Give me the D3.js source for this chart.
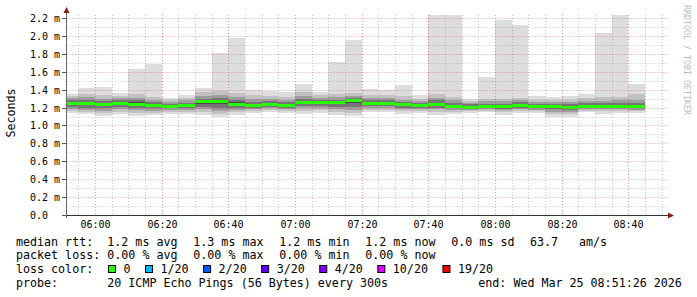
<!DOCTYPE html>
<html>
<head>
<meta charset="utf-8">
<script src="https://cdnjs.cloudflare.com/ajax/libs/d3/7.8.5/d3.min.js"></script>
<style>
  body { margin: 0; background: #fff; }
  svg { display: block; }
  text { font-family: "DejaVu Sans Mono", monospace; fill: #000; }
</style>
</head>
<body>
<svg width="697" height="297"></svg>
<script>
// 5 minute steps (start of each step)
var steps = ["05:50", "05:55", "06:00", "06:05", "06:10", "06:15", "06:20", "06:25", "06:30", "06:35",
             "06:40", "06:45", "06:50", "06:55", "07:00", "07:05", "07:10", "07:15", "07:20", "07:25",
             "07:30", "07:35", "07:40", "07:45", "07:50", "07:55", "08:00", "08:05", "08:10", "08:15",
             "08:20", "08:25", "08:30", "08:35", "08:40"];

// median rtt in ms
var median = [1.248, 1.25, 1.23, 1.25, 1.24, 1.22, 1.21, 1.22, 1.265, 1.27,
              1.24, 1.22, 1.24, 1.226, 1.26, 1.255, 1.257, 1.275, 1.245, 1.25,
              1.23, 1.22, 1.237, 1.207, 1.2, 1.212, 1.212, 1.226, 1.21, 1.21,
              1.205, 1.216, 1.216, 1.215, 1.215];

// sorted pings (rank 1, 3, 5, 7, 9, 12, 14, 16, 18, 20 of 20) in ms
var pMin = [1.14, 1.125, 1.11, 1.13, 1.11, 1.12, 1.13, 1.13, 1.12, 1.095,
            1.12, 1.14, 1.15, 1.14, 1.13, 1.14, 1.12, 1.11, 1.15, 1.15,
            1.13, 1.14, 1.12, 1.13, 1.14, 1.15, 1.12, 1.14, 1.14, 1.10,
            1.10, 1.15, 1.13, 1.14, 1.14];
var p3 = [1.16, 1.15, 1.14, 1.155, 1.14, 1.14, 1.15, 1.15, 1.15, 1.13,
          1.15, 1.16, 1.17, 1.16, 1.16, 1.17, 1.15, 1.14, 1.17, 1.17,
          1.16, 1.16, 1.15, 1.155, 1.16, 1.165, 1.15, 1.16, 1.16, 1.13,
          1.13, 1.165, 1.16, 1.16, 1.16];
var p5 = [1.18, 1.17, 1.165, 1.18, 1.17, 1.165, 1.17, 1.17, 1.18, 1.16,
          1.175, 1.18, 1.19, 1.18, 1.19, 1.195, 1.18, 1.17, 1.19, 1.19,
          1.18, 1.18, 1.18, 1.175, 1.175, 1.18, 1.17, 1.18, 1.175, 1.155,
          1.155, 1.18, 1.18, 1.18, 1.175];
var p7 = [1.21, 1.20, 1.19, 1.205, 1.20, 1.19, 1.19, 1.195, 1.21, 1.20,
          1.20, 1.195, 1.21, 1.20, 1.22, 1.22, 1.21, 1.21, 1.215, 1.215,
          1.20, 1.20, 1.20, 1.19, 1.19, 1.19, 1.185, 1.20, 1.19, 1.18,
          1.175, 1.195, 1.195, 1.195, 1.19];
var p9 = [1.235, 1.23, 1.215, 1.235, 1.225, 1.21, 1.20, 1.21, 1.245, 1.245,
          1.225, 1.21, 1.23, 1.215, 1.245, 1.24, 1.24, 1.25, 1.235, 1.24,
          1.22, 1.21, 1.22, 1.20, 1.195, 1.20, 1.20, 1.215, 1.20, 1.20,
          1.195, 1.205, 1.205, 1.205, 1.205];
var p12 = [1.265, 1.265, 1.25, 1.265, 1.26, 1.24, 1.225, 1.235, 1.28, 1.285,
           1.26, 1.24, 1.255, 1.24, 1.275, 1.27, 1.27, 1.29, 1.26, 1.265,
           1.245, 1.235, 1.255, 1.225, 1.215, 1.225, 1.225, 1.24, 1.22, 1.225,
           1.22, 1.23, 1.23, 1.23, 1.23];
var p14 = [1.285, 1.29, 1.275, 1.285, 1.28, 1.26, 1.24, 1.255, 1.30, 1.31,
           1.29, 1.265, 1.275, 1.26, 1.30, 1.29, 1.29, 1.305, 1.28, 1.285,
           1.265, 1.255, 1.28, 1.25, 1.235, 1.24, 1.245, 1.26, 1.24, 1.24,
           1.24, 1.25, 1.25, 1.25, 1.255];
var p16 = [1.31, 1.32, 1.30, 1.31, 1.31, 1.285, 1.26, 1.28, 1.33, 1.34,
           1.32, 1.30, 1.30, 1.29, 1.33, 1.31, 1.32, 1.325, 1.31, 1.31,
           1.29, 1.27, 1.31, 1.28, 1.25, 1.27, 1.27, 1.28, 1.26, 1.26,
           1.26, 1.275, 1.275, 1.28, 1.29];
var p18 = [1.33, 1.356, 1.34, 1.335, 1.35, 1.32, 1.28, 1.31, 1.37, 1.38,
           1.36, 1.34, 1.33, 1.32, 1.37, 1.34, 1.35, 1.36, 1.34, 1.34,
           1.33, 1.30, 1.35, 1.32, 1.27, 1.30, 1.30, 1.31, 1.29, 1.29,
           1.29, 1.31, 1.32, 1.32, 1.35];
var pMax = [1.35, 1.42, 1.43, 1.36, 1.63, 1.69, 1.31, 1.34, 1.42, 1.81,
            1.98, 1.40, 1.39, 1.37, 1.46, 1.37, 1.71, 1.96, 1.41, 1.40,
            1.45, 1.34, 2.40, 2.40, 1.30, 1.54, 2.18, 2.12, 1.33, 1.32,
            1.33, 1.35, 2.03, 2.40, 1.46];

var tickLabels = ["06:00", "06:20", "06:40", "07:00", "07:20", "07:40", "08:00", "08:20", "08:40"];
var yValues = [0, 0.2, 0.4, 0.6, 0.8, 1.0, 1.2, 1.4, 1.6, 1.8, 2.0, 2.2];
var lossLabels = ["0", "1/20", "2/20", "3/20", "4/20", "10/20", "19/20"];
var lossColors = ["#26ff00", "#00b8ff", "#0059ff", "#5e00ff", "#7e00ff", "#dd00ff", "#ff0000"];

var svg = d3.select("svg"),
    plotLeft = 66.5,
    plotTop = 15,
    plotW = 600,
    plotH = 200,
    charW = 7.02;

var parse = d3.utcParse("%Y-%m-%d %H:%M:%S"),
    end = parse("2026-03-25 08:51:26"),
    start = d3.utcHour.offset(end, -3),
    stepTime = s => parse("2026-03-25 " + s + ":00");

var x = d3.scaleUtc().domain([start, end]).range([plotLeft, plotLeft + plotW]),
    y = d3.scaleLinear().domain([0, 2.2346]).range([plotTop + plotH, plotTop]);

svg.append("clipPath").attr("id", "clip")
    .append("rect")
    .attr("x", plotLeft).attr("y", plotTop)
    .attr("width", plotW).attr("height", plotH);

var plot = svg.append("g").attr("clip-path", "url(#clip)");

var bx0 = d => Math.round(x(stepTime(d))),
    bx1 = d => Math.round(x(d3.utcMinute.offset(stepTime(d), 5)));

// smoke, outer pair first, darker inner pairs on top
var bands = [[pMin, pMax, "#dddddd"], [p3, p18, "#c2c2c2"], [p5, p16, "#9e9e9e"],
             [p7, p14, "#757575"], [p9, p12, "#4a4a4a"]];
bands.forEach(function (b) {
    plot.selectAll(null)
        .data(steps)
        .enter().append("rect")
        .attr("shape-rendering", "crispEdges")
        .attr("x", bx0)
        .attr("width", d => bx1(d) - bx0(d))
        .attr("y", (d, i) => y(b[1][i]))
        .attr("height", (d, i) => y(b[0][i]) - y(b[1][i]))
        .attr("fill", b[2]);
});

// median line
plot.selectAll(null)
    .data(steps)
    .enter().append("rect")
    .attr("shape-rendering", "crispEdges")
    .attr("x", bx0)
    .attr("width", d => bx1(d) - bx0(d))
    .attr("y", (d, i) => Math.round(y(median[i]) - 1.5))
    .attr("height", 3)
    .attr("fill", lossColors[0]);

// grid on top of data
var grid = svg.append("g").attr("stroke-dasharray", "1,2").attr("fill", "none");
var minorY = d3.range(1, 23).map(d => d / 10);
minorY.forEach(function (v) {
    var major = Math.round(v * 10) % 2 === 0;
    var yy = Math.round(y(v)) + 0.5;
    grid.append("line")
        .attr("x1", plotLeft).attr("x2", plotLeft + plotW + 1)
        .attr("y1", yy).attr("y2", yy)
        .attr("stroke", major ? "rgba(200,40,40,0.45)" : "rgba(120,120,120,0.4)");
});
d3.utcMinute.every(5).range(start, end).forEach(function (t) {
    var major = t.getUTCMinutes() % 20 === 0;
    var xx = Math.round(x(t)) + 0.5;
    grid.append("line")
        .attr("x1", xx).attr("x2", xx)
        .attr("y1", plotTop).attr("y2", plotTop + plotH)
        .attr("stroke", major ? "rgba(200,40,40,0.45)" : "rgba(120,120,120,0.4)");
});

// axes
var axisY = Math.round(y(0)) + 0.5;
svg.append("line")
    .attr("x1", 62).attr("x2", 670).attr("y1", axisY).attr("y2", axisY)
    .attr("stroke", "#333");
svg.append("line")
    .attr("x1", 66.5).attr("x2", 66.5).attr("y1", 218).attr("y2", 11)
    .attr("stroke", "#666");
svg.append("path").attr("d", "M63.5,13 L66.5,7 L69.5,13 Z").attr("fill", "#8b1a1a");
svg.append("path").attr("d", "M668,212.5 L674,215.5 L668,218.5 Z").attr("fill", "#8b1a1a");

// y ticks and labels
yValues.forEach(function (v) {
    var yy = Math.round(y(v)) + 0.5;
    svg.append("line")
        .attr("x1", 62).attr("x2", 66).attr("y1", yy).attr("y2", yy)
        .attr("stroke", "#555");
    svg.append("text")
        .attr("x", 30).attr("y", yy + 3.5)
        .style("font-size", "10px")
        .text(v === 0 ? "0.0" : d3.format(".1f")(v) + " m");
});

// x labels
tickLabels.forEach(function (s) {
    svg.append("text")
        .attr("x", Math.round(x(stepTime(s))) + 0.5)
        .attr("y", 228)
        .attr("text-anchor", "middle")
        .style("font-size", "10px")
        .text(s);
});

svg.append("text")
    .attr("transform", "translate(15,113) rotate(-90)")
    .attr("text-anchor", "middle")
    .style("font-size", "11.66px")
    .text("Seconds");

svg.append("text")
    .attr("transform", "translate(684,5) rotate(90)")
    .style("font-size", "8.3px")
    .style("fill", "#bdbdbd")
    .text("RRDTOOL / TOBI OETIKER");

// legend
var f1 = d3.format(".1f");
var row1 = ["median rtt:", f1(d3.mean(median)) + " ms avg", f1(d3.max(median)) + " ms max",
            f1(d3.min(median)) + " ms min", f1(median[median.length - 1]) + " ms now", "0.0 ms sd"];
var row2 = ["packet loss:", "0.00 % avg", "0.00 % max", "0.00 % min", "0.00 % now"];
var colX = [16, 107.3, 193.3, 279.3, 365.3, 451.3];

function legendText(str, xx, yy) {
    svg.append("text")
        .attr("x", xx).attr("y", yy)
        .attr("xml:space", "preserve")
        .style("font-size", "11.66px")
        .text(str);
}
row1.forEach((s, i) => legendText(s, colX[i], 245.5));
legendText("63.7", 530, 245.5);
legendText("am/s", 579, 245.5);
row2.forEach((s, i) => legendText(s, colX[i], 259));

legendText("loss color:", 16, 273);
var lx = 108.5;
lossLabels.forEach(function (s, i) {
    svg.append("rect")
        .attr("x", lx).attr("y", 265.5)
        .attr("width", 7).attr("height", 7)
        .attr("fill", lossColors[i])
        .attr("stroke", "#000");
    legendText(s, lx + 15, 273);
    lx = lx + 15 + s.length * charW + 15;
});

legendText("probe:", 16, 286.5);
legendText("20 ICMP Echo Pings (56 Bytes) every 300s", 107.3, 286.5);
legendText("end: Wed Mar 25 08:51:26 2026", 478.3, 286.5);
</script>
</body>
</html>
